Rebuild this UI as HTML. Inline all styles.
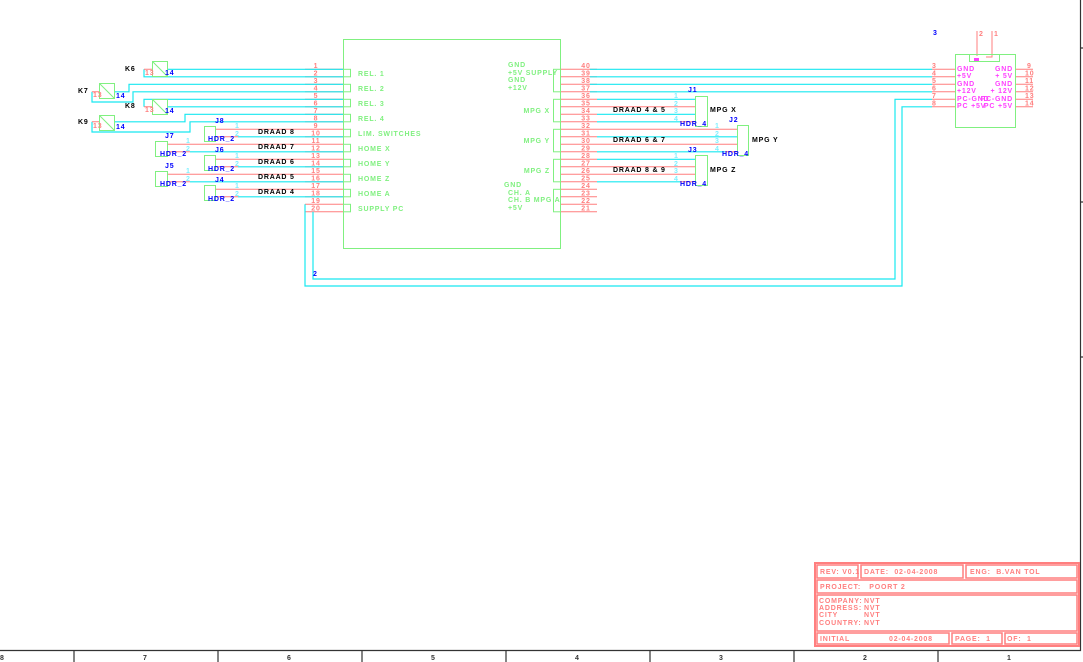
<!DOCTYPE html>
<html><head><meta charset="utf-8"><style>
html,body{margin:0;padding:0;background:#fff;}
svg{display:block;}
text{font-family:"Liberation Sans",sans-serif;font-weight:bold;font-size:7px;letter-spacing:0.8px;}
.r{fill:#ff7f7f}.g{fill:#80f080}.b{fill:#0000ff}.k{fill:#000}.m{fill:#ff40ff;letter-spacing:0.2px}.c{fill:#80f0ff}
</style></head><body>
<svg width="1083" height="662" viewBox="0 0 1083 662" xmlns="http://www.w3.org/2000/svg">
<rect width="1083" height="662" fill="#fff"/>
<g stroke="#333" stroke-width="1.2" fill="none">
<path d="M0,650.5H1080.5V0"/>
<path d="M74,650V662M218,650V662M362,650V662M506,650V662M650,650V662M794,650V662M938,650V662"/>
<path d="M1080,48H1083M1080,202H1083M1080,357H1083"/>
</g>
<g fill="#333" font-size="7"><text x="0" y="660" style="fill:#333">8</text><text x="143" y="660" style="fill:#333">7</text><text x="287" y="660" style="fill:#333">6</text><text x="431" y="660" style="fill:#333">5</text><text x="575" y="660" style="fill:#333">4</text><text x="719" y="660" style="fill:#333">3</text><text x="863" y="660" style="fill:#333">2</text><text x="1007" y="660" style="fill:#333">1</text></g>

<rect x="343.5" y="39.5" width="217" height="209" fill="none" stroke="#80f080"/>
<g stroke="#ff7f7f" fill="none">
<path d="M305,69.3H343M305,76.8H343M305,84.3H343M305,91.8H343M305,99.3H343M305,106.8H343M305,114.3H343M305,121.8H343M305,129.3H343M305,136.8H343M305,144.3H343M305,151.8H343M305,159.3H343M305,166.8H343M305,174.3H343M305,181.8H343M305,189.3H343M305,196.8H343M305,204.3H343M305,211.8H343"/>
<path d="M560,69.3H597M560,76.8H597M560,84.3H597M560,91.8H597M560,99.3H597M560,106.8H597M560,114.3H597M560,121.8H597M560,129.3H597M560,136.8H597M560,144.3H597M560,151.8H597M560,159.3H597M560,166.8H597M560,174.3H597M560,181.8H597M560,189.3H597M560,196.8H597M560,204.3H597M560,211.8H597"/>
</g>
<g class="r" text-anchor="middle">
<text x="316" y="68">1</text><text x="316" y="75.5">2</text><text x="316" y="83">3</text><text x="316" y="90.5">4</text><text x="316" y="98">5</text><text x="316" y="105.5">6</text><text x="316" y="113">7</text><text x="316" y="120.5">8</text><text x="316" y="128">9</text><text x="316" y="135.5">10</text><text x="316" y="143">11</text><text x="316" y="150.5">12</text><text x="316" y="158">13</text><text x="316" y="165.5">14</text><text x="316" y="173">15</text><text x="316" y="180.5">16</text><text x="316" y="188">17</text><text x="316" y="195.5">18</text><text x="316" y="203">19</text><text x="316" y="210.5">20</text>
<text x="586" y="68">40</text><text x="586" y="75.5">39</text><text x="586" y="83">38</text><text x="586" y="90.5">37</text><text x="586" y="98">36</text><text x="586" y="105.5">35</text><text x="586" y="113">34</text><text x="586" y="120.5">33</text><text x="586" y="128">32</text><text x="586" y="135.5">31</text><text x="586" y="143">30</text><text x="586" y="150.5">29</text><text x="586" y="158">28</text><text x="586" y="165.5">27</text><text x="586" y="173">26</text><text x="586" y="180.5">25</text><text x="586" y="188">24</text><text x="586" y="195.5">23</text><text x="586" y="203">22</text><text x="586" y="210.5">21</text>
</g>
<g stroke="#80f080" fill="none">
<rect x="343.5" y="69.3" width="7" height="7.5"/><rect x="343.5" y="84.3" width="7" height="7.5"/><rect x="343.5" y="99.3" width="7" height="7.5"/><rect x="343.5" y="114.3" width="7" height="7.5"/><rect x="343.5" y="129.3" width="7" height="7.5"/><rect x="343.5" y="144.3" width="7" height="7.5"/><rect x="343.5" y="159.3" width="7" height="7.5"/><rect x="343.5" y="174.3" width="7" height="7.5"/><rect x="343.5" y="189.3" width="7" height="7.5"/><rect x="343.5" y="204.3" width="7" height="7.5"/>
<rect x="553.5" y="69.3" width="7" height="22.5"/><rect x="553.5" y="99.3" width="7" height="22.5"/><rect x="553.5" y="129.3" width="7" height="22.5"/><rect x="553.5" y="159.3" width="7" height="22.5"/><rect x="553.5" y="189.3" width="7" height="22.5"/>
</g>
<g class="g">
<text x="358" y="76">REL. 1</text><text x="358" y="91">REL. 2</text><text x="358" y="106">REL. 3</text><text x="358" y="121">REL. 4</text><text x="358" y="136">LIM. SWITCHES</text><text x="358" y="151">HOME X</text><text x="358" y="166">HOME Y</text><text x="358" y="181">HOME Z</text><text x="358" y="196">HOME A</text><text x="358" y="211">SUPPLY PC</text>
<text x="508" y="67">GND</text><text x="508" y="75">+5V SUPPLY</text><text x="508" y="82">GND</text><text x="508" y="90">+12V</text>
<text x="550" y="113" text-anchor="end">MPG X</text><text x="550" y="143" text-anchor="end">MPG Y</text><text x="550" y="173" text-anchor="end">MPG Z</text>
<text x="504" y="187">GND</text><text x="508" y="195">CH. A</text><text x="508" y="202">CH. B MPG A</text><text x="508" y="210">+5V</text>
</g>

<g stroke="#18e8f0" stroke-width="1.2" fill="none">
<path d="M167,69.3H343M144,69.3V76.8H343"/>
<path d="M114,91.8H129V84.3H343M92,91.8V102H133V91.8H343"/>
<path d="M144,106.8V99.3H343M167,106.8H343"/>
<path d="M114,121.8H185V114.3H343M92,121.8V132H190V121.8H343"/>
<path d="M238,136.8H343M190,151.8H343M238,166.8H343M190,181.8H343M238,196.8H343"/>
<path d="M932,99.3H895V279H313V211.8M932,106.8H902V286H305V204.3"/>
<path d="M590,69.3H932M590,76.8H932M590,84.3H932M590,91.8H932"/>
<path d="M597,99.3H695M597,114.3H695M597,121.8H680M597,136.8H737M597,151.8H725M597,159.3H695M597,181.8H680"/>
</g>
<g stroke="#ff7f7f" fill="none">
<path d="M144,69.3H152M92,91.8H99M144,106.8H152M92,121.8H99"/>
<path d="M215,129.3H305M215,136.8H238M167,144.3H305M167,151.8H190M215,159.3H305M215,166.8H238M167,174.3H305M167,181.8H190M215,189.3H305M215,196.8H238"/>
<path d="M597,106.8H695M680,121.8H695M597,129.3H737M597,144.3H737M725,151.8H737M597,166.8H695M597,174.3H695M680,181.8H695"/>
<path d="M932,69.3H955M932,76.8H955M932,84.3H955M932,91.8H955M932,99.3H955M932,106.8H955M1015,69.3H1033M1015,76.8H1033M1015,84.3H1033M1015,91.8H1033M1015,99.3H1033M1015,106.8H1033"/>
<path d="M977,31V56M992,31V57H986"/>
</g>
<g stroke="#80f080" fill="none">
<rect x="152.5" y="61.5" width="15" height="15"/><path d="M152.5,61.5L167.5,76.5"/>
<rect x="99.5" y="83.5" width="15" height="15"/><path d="M99.5,83.5L114.5,98.5"/>
<rect x="152.5" y="99.5" width="15" height="15"/><path d="M152.5,99.5L167.5,114.5"/>
<rect x="99.5" y="115.5" width="15" height="15"/><path d="M99.5,115.5L114.5,130.5"/>
<rect x="204.5" y="126.5" width="11" height="15"/><rect x="155.5" y="141.5" width="12" height="15"/><rect x="204.5" y="155.5" width="11" height="15"/><rect x="155.5" y="171.5" width="12" height="15"/><rect x="204.5" y="185.5" width="11" height="15"/>
<rect x="695.5" y="96.5" width="12" height="30"/><rect x="737.5" y="125.5" width="11" height="30"/><rect x="695.5" y="155.5" width="12" height="30"/>
<rect x="955.5" y="54.5" width="60" height="73"/><rect x="969.5" y="54.5" width="30" height="7"/>
</g>
<rect x="974" y="58" width="5" height="3" fill="#ff40ff"/>
<g class="k">
<text x="125" y="71">K6</text><text x="78" y="93">K7</text><text x="125" y="108">K8</text><text x="78" y="124">K9</text>
<text x="258" y="134">DRAAD 8</text><text x="258" y="149">DRAAD 7</text><text x="258" y="164">DRAAD 6</text><text x="258" y="179">DRAAD 5</text><text x="258" y="194">DRAAD 4</text>
<text x="613" y="112">DRAAD 4 &amp; 5</text><text x="613" y="142">DRAAD 6 &amp; 7</text><text x="613" y="172">DRAAD 8 &amp; 9</text>
<text x="710" y="112">MPG X</text><text x="752" y="142">MPG Y</text><text x="710" y="172">MPG Z</text>
</g>
<g class="r"><text x="145" y="75">13</text><text x="93" y="97">13</text><text x="145" y="112">13</text><text x="93" y="128">13</text></g>
<g class="b">
<text x="165" y="75">14</text><text x="116" y="98">14</text><text x="165" y="113">14</text><text x="116" y="129">14</text>
<text x="215" y="123">J8</text><text x="208" y="141">HDR_2</text>
<text x="165" y="138">J7</text><text x="160" y="156">HDR_2</text>
<text x="215" y="152">J6</text><text x="208" y="171">HDR_2</text>
<text x="165" y="168">J5</text><text x="160" y="186">HDR_2</text>
<text x="215" y="182">J4</text><text x="208" y="201">HDR_2</text>
<text x="688" y="92">J1</text><text x="680" y="126">HDR_4</text>
<text x="729" y="122">J2</text><text x="722" y="156">HDR_4</text>
<text x="688" y="152">J3</text><text x="680" y="186">HDR_4</text>
<text x="313" y="276">2</text><text x="933" y="35">3</text>
</g>
<g class="c">
<text x="235" y="128">1</text><text x="235" y="136">2</text><text x="186" y="143">1</text><text x="186" y="151">2</text><text x="235" y="158">1</text><text x="235" y="166">2</text><text x="186" y="173">1</text><text x="186" y="181">2</text><text x="235" y="188">1</text><text x="235" y="196">2</text>
<text x="674" y="98">1</text><text x="674" y="106">2</text><text x="674" y="113">3</text><text x="674" y="121">4</text>
<text x="715" y="128">1</text><text x="715" y="136">2</text><text x="715" y="143">3</text><text x="715" y="151">4</text>
<text x="674" y="158">1</text><text x="674" y="166">2</text><text x="674" y="173">3</text><text x="674" y="181">4</text>
</g>
<g class="m">
<text x="957" y="71">GND</text><text x="957" y="78">+5V</text><text x="957" y="86">GND</text><text x="957" y="93">+12V</text><text x="957" y="101">PC-GND</text><text x="957" y="108">PC +5V</text>
<text x="1013" y="71" text-anchor="end">GND</text><text x="1013" y="78" text-anchor="end">+ 5V</text><text x="1013" y="86" text-anchor="end">GND</text><text x="1013" y="93" text-anchor="end">+ 12V</text><text x="1013" y="101" text-anchor="end">PC-GND</text><text x="1013" y="108" text-anchor="end">PC +5V</text>
</g>
<g class="r">
<text x="932" y="68">3</text><text x="932" y="75.5">4</text><text x="932" y="83">5</text><text x="932" y="90.5">6</text><text x="932" y="98">7</text><text x="932" y="105.5">8</text>
<text x="1027" y="68">9</text><text x="1025" y="75.5">10</text><text x="1025" y="83">11</text><text x="1025" y="90.5">12</text><text x="1025" y="98">13</text><text x="1025" y="105.5">14</text>
<text x="979" y="36">2</text><text x="994" y="36">1</text>
</g>

<g stroke="#ff7f7f" fill="none">
<rect x="815" y="563" width="264" height="83" stroke-width="2"/>
<rect x="817" y="565" width="41" height="13" stroke-width="1.5"/><rect x="861" y="565" width="102" height="13" stroke-width="1.5"/><rect x="966" y="565" width="111" height="13" stroke-width="1.5"/>
<rect x="817" y="580" width="260" height="13" stroke-width="1.5"/>
<rect x="817" y="595" width="260" height="36" stroke-width="1.5"/>
<rect x="817" y="633" width="132" height="11" stroke-width="1.5"/><rect x="952" y="633" width="50" height="11" stroke-width="1.5"/><rect x="1005" y="633" width="72" height="11" stroke-width="1.5"/>
</g>
<g class="r">
<text x="820" y="574">REV: V0.1</text><text x="864" y="574">DATE:&#160;&#160;02-04-2008</text><text x="970" y="574">ENG:&#160;&#160;B.VAN TOL</text>
<text x="820" y="589">PROJECT:&#160;&#160;&#160;POORT 2</text>
<text x="819" y="603">COMPANY:</text><text x="864" y="603">NVT</text>
<text x="819" y="610">ADDRESS:</text><text x="864" y="610">NVT</text>
<text x="819" y="617">CITY</text><text x="864" y="617">NVT</text>
<text x="819" y="625">COUNTRY:</text><text x="864" y="625">NVT</text>
<text x="820" y="641">INITIAL</text><text x="889" y="641">02-04-2008</text><text x="955" y="641">PAGE:&#160;&#160;1</text><text x="1007" y="641">OF:&#160;&#160;1</text>
</g>
</svg>
</body></html>
